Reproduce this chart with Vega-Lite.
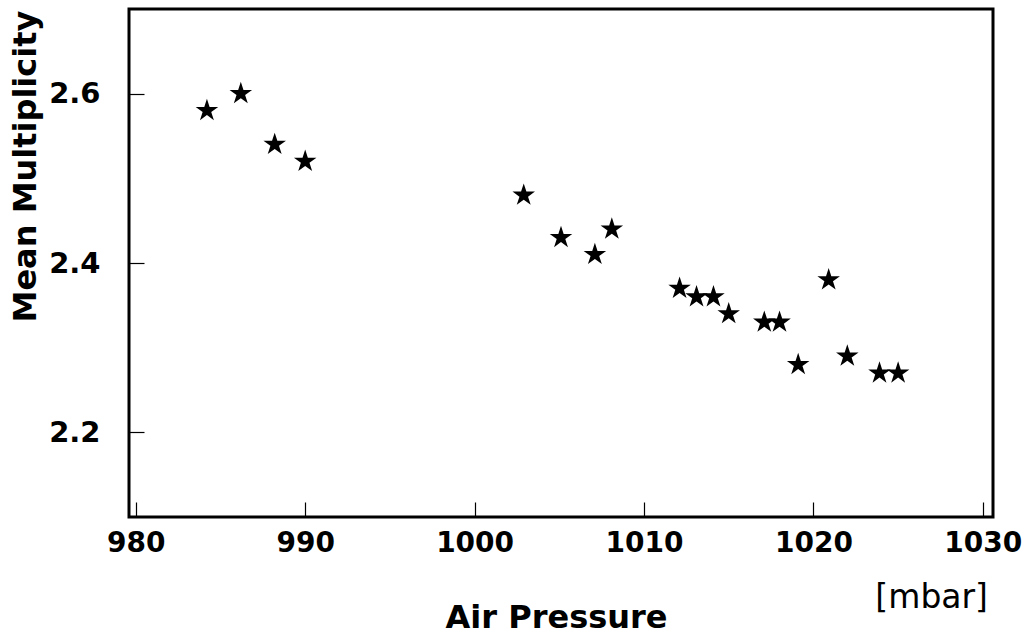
{
  "$schema": "https://vega.github.io/schema/vega-lite/v6.json",
  "width": 864,
  "height": 508,
  "autosize": "none",
  "padding": {"left": 129, "top": 9, "right": 32, "bottom": 117},
  "background": "white",
  "config": {
    "view": {"stroke": "black", "strokeWidth": 3},
    "font": "DejaVu Sans"
  },
  "title": {
    "text": "[mbar]",
    "orient": "bottom",
    "anchor": "end",
    "frame": "group",
    "font": "DejaVu Sans",
    "fontSize": 33,
    "fontWeight": "normal",
    "color": "black",
    "offset": -51,
    "dx": -5
  },
  "data": {
    "values": [
      {"pressure": 984.2, "multiplicity": 2.58},
      {"pressure": 986.2, "multiplicity": 2.60},
      {"pressure": 988.2, "multiplicity": 2.54},
      {"pressure": 990.0, "multiplicity": 2.52},
      {"pressure": 1002.9, "multiplicity": 2.48},
      {"pressure": 1005.1, "multiplicity": 2.43},
      {"pressure": 1007.1, "multiplicity": 2.41},
      {"pressure": 1008.1, "multiplicity": 2.44},
      {"pressure": 1012.1, "multiplicity": 2.37},
      {"pressure": 1013.1, "multiplicity": 2.36},
      {"pressure": 1014.1, "multiplicity": 2.36},
      {"pressure": 1015.0, "multiplicity": 2.34},
      {"pressure": 1017.1, "multiplicity": 2.33},
      {"pressure": 1018.0, "multiplicity": 2.33},
      {"pressure": 1019.1, "multiplicity": 2.28},
      {"pressure": 1020.9, "multiplicity": 2.38},
      {"pressure": 1022.0, "multiplicity": 2.29},
      {"pressure": 1023.9, "multiplicity": 2.27},
      {"pressure": 1025.0, "multiplicity": 2.27}
    ]
  },
  "mark": {
    "type": "point",
    "shape": "M0,-1L0.2245,-0.309L0.951,-0.309L0.3633,0.118L0.588,0.809L0,0.382L-0.588,0.809L-0.3633,0.118L-0.951,-0.309L-0.2245,-0.309Z",
    "filled": true,
    "color": "black",
    "opacity": 1,
    "size": 560
  },
  "encoding": {
    "x": {
      "field": "pressure",
      "type": "quantitative",
      "scale": {"domain": [979.6, 1030.6], "nice": false, "zero": false},
      "axis": {
        "title": "Air Pressure",
        "values": [980, 990, 1000, 1010, 1020, 1030],
        "format": "d",
        "grid": false,
        "domain": false,
        "tickSize": -15,
        "tickColor": "black",
        "tickWidth": 1.2,
        "labelPadding": 41,
        "labelFont": "DejaVu Sans",
        "labelFontSize": 28,
        "labelFontWeight": "bold",
        "labelColor": "black",
        "labelBaseline": "middle",
        "titleFont": "DejaVu Sans",
        "titleFontSize": 32,
        "titleFontWeight": "bold",
        "titleColor": "black",
        "titleX": 427,
        "titleY": 110,
        "titleAlign": "center",
        "titleBaseline": "alphabetic"
      }
    },
    "y": {
      "field": "multiplicity",
      "type": "quantitative",
      "scale": {"domain": [2.1, 2.7], "nice": false, "zero": false},
      "axis": {
        "title": "Mean Multiplicity",
        "values": [2.2, 2.4, 2.6],
        "format": ".1f",
        "grid": false,
        "domain": false,
        "tickSize": -15,
        "tickColor": "black",
        "tickWidth": 1.2,
        "labelPadding": 44,
        "labelFont": "DejaVu Sans",
        "labelFontSize": 29,
        "labelFontWeight": "bold",
        "labelColor": "black",
        "titleFont": "DejaVu Sans",
        "titleFontSize": 32,
        "titleFontWeight": "bold",
        "titleColor": "black",
        "titleAngle": -90,
        "titleX": -94,
        "titleY": 157,
        "titleAlign": "center",
        "titleBaseline": "alphabetic"
      }
    }
  }
}
